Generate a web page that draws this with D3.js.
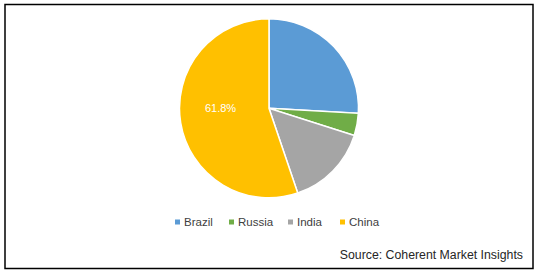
<!DOCTYPE html>
<html>
<head>
<meta charset="utf-8">
<script src="https://cdn.jsdelivr.net/npm/d3@7"></script>
<style>
  html, body { margin: 0; padding: 0; background: #fff; }
  svg { display: block; }
</style>
</head>
<body>
<svg id="chart" width="538" height="272"></svg>
<script>
const categories = ["Brazil", "Russia", "India", "China"];
const values = [25.9, 4.0, 14.9, 55.2];
const colors = ["#5B9BD5", "#70AD47", "#A5A5A5", "#FFC000"];
const sliceLabels = ["", "", "", "61.8%"];
const sourceText = "Source: Coherent Market Insights";

const svg = d3.select("#chart");
const font = "'Liberation Sans', Arial, sans-serif";

// frame
svg.append("rect")
  .attr("x", 5).attr("y", 4.5)
  .attr("width", 528).attr("height", 264)
  .attr("fill", "#fff").attr("stroke", "#000").attr("stroke-width", 1.5);

const cx = 269, cy = 108.3, r = 89.5;
const data = categories.map((c, i) => ({ name: c, value: values[i], color: colors[i], label: sliceLabels[i] }));
const pie = d3.pie().value(d => d.value).sort(null);
const arc = d3.arc().innerRadius(0).outerRadius(r);
const arcs = pie(data);

const g = svg.append("g").attr("transform", `translate(${cx},${cy})`);
g.selectAll("path").data(arcs).enter().append("path")
  .attr("d", arc)
  .attr("fill", d => d.data.color)
  .attr("stroke", "#fff").attr("stroke-width", 1.5);

// data label (China)
g.selectAll("text.lbl").data(arcs.filter(d => d.data.label)).enter().append("text")
  .attr("class", "lbl")
  .attr("x", -48.5).attr("y", 4)
  .attr("text-anchor", "middle")
  .attr("font-family", font).attr("font-size", 11)
  .attr("fill", "#fff")
  .text(d => d.data.label);

// legend
const legendX = [175, 229, 288, 340];
const lg = svg.append("g");
data.forEach((d, i) => {
  lg.append("rect")
    .attr("x", legendX[i]).attr("y", 219.5)
    .attr("width", 5).attr("height", 5)
    .attr("fill", d.color);
  lg.append("text")
    .attr("x", legendX[i] + 9).attr("y", 226)
    .attr("font-family", font).attr("font-size", 11.5)
    .attr("fill", "#404040")
    .text(d.name);
});

// source
svg.append("text")
  .attr("x", 523).attr("y", 259)
  .attr("text-anchor", "end")
  .attr("font-family", font).attr("font-size", 12.3)
  .attr("fill", "#262626")
  .text(sourceText);
</script>
</body>
</html>
